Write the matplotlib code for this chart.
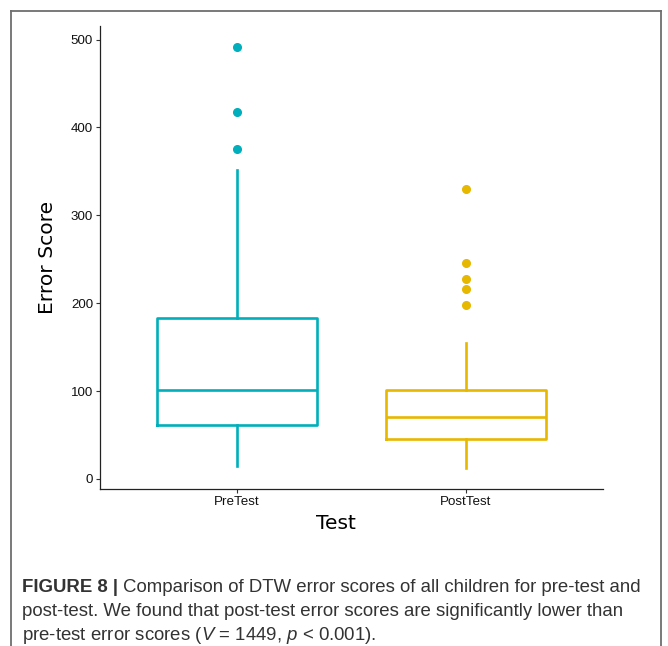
import matplotlib
matplotlib.use("Agg")
import matplotlib.pyplot as plt
from matplotlib.lines import Line2D

# values
groups = ["PreTest", "PostTest"]
colors = ["#00AFBB", "#E7B800"]
q1 = [61, 46]
median = [101, 71]
q3 = [183, 101]
whisker_low = [15, 13]
whisker_high = [352, 155]
outliers = [[375, 417, 492], [198, 216, 228, 246, 330]]

y_ticks = [0, 100, 200, 300, 400, 500]

caption_bold = "FIGURE 8 | "
caption_lines = [
    "Comparison of DTW error scores of all children for pre-test and",
    "post-test. We found that post-test error scores are significantly lower than",
    r"pre-test error scores ($V$ = 1449, $p$ < 0.001).",
]

plt.rcParams["mathtext.fontset"] = "custom"
plt.rcParams["mathtext.it"] = "Liberation Sans:italic"
plt.rcParams["mathtext.rm"] = "Liberation Sans"

W, H = 668, 646
fig = plt.figure(figsize=(W / 100, H / 100), dpi=100)
ax = fig.add_axes([100 / W, 1 - 489 / H, 503 / W, 463 / H])

stats = []
for i, name in enumerate(groups):
    stats.append({
        "label": name,
        "q1": q1[i], "med": median[i], "q3": q3[i],
        "whislo": whisker_low[i], "whishi": whisker_high[i],
        "fliers": outliers[i],
    })

for i, s in enumerate(stats):
    c = colors[i]
    ax.bxp([s], positions=[i + 1], widths=0.70, showcaps=False,
           boxprops=dict(color=c, linewidth=1.9),
           medianprops=dict(color=c, linewidth=1.9),
           whiskerprops=dict(color=c, linewidth=1.9),
           flierprops=dict(marker="o", markerfacecolor=c, markeredgecolor=c,
                           markersize=5.5))

ax.set_xlim(0.4, 2.6)
ax.set_ylim(-11.4, 515.4)
ax.set_yticks(y_ticks)
ax.set_xticks([1, 2])
ax.set_xticklabels(groups)
for lab in ax.get_xticklabels() + ax.get_yticklabels():
    lab.set_fontfamily("Liberation Sans")
    lab.set_fontsize(9.6)
    lab.set_color("#111111")
ax.tick_params(length=3, width=0.8, color="#333333", pad=2)
for side in ["top", "right"]:
    ax.spines[side].set_visible(False)
for side in ["left", "bottom"]:
    ax.spines[side].set_linewidth(0.9)
    ax.spines[side].set_color("#222222")

ax.set_ylabel("Error Score", fontsize=14.6, family="DejaVu Sans", labelpad=10)
ax.set_xlabel("Test", fontsize=14.6, family="DejaVu Sans", labelpad=4)
ax.xaxis.set_label_coords(0.469, -0.055)

# outer frame of the figure panel
frame_kw = dict(color="#6e6e6e", linewidth=1.3, transform=fig.transFigure, clip_on=False)
x0, x1, y0 = 10.5 / W, 661 / W, 1 - 10.5 / H
fig.add_artist(Line2D([x0, x0], [y0, -0.05], **frame_kw))
fig.add_artist(Line2D([x1, x1], [y0, -0.05], **frame_kw))
fig.add_artist(Line2D([x0, x1], [y0, y0], **frame_kw))

# caption
cap_kw = dict(fontsize=13.4, family="Liberation Sans", color="#333333", va="center")
y_line = [588, 612, 635]
t0 = fig.text(22 / W, 1 - y_line[0] / H, caption_bold, fontweight="bold", **cap_kw)
ax.annotate(caption_lines[0], xy=(1, 0.5), xycoords=t0, annotation_clip=False,
            **cap_kw)
for k in (1, 2):
    fig.text(22 / W, 1 - y_line[k] / H, caption_lines[k], **cap_kw)

fig.savefig("out.png", dpi=100)
